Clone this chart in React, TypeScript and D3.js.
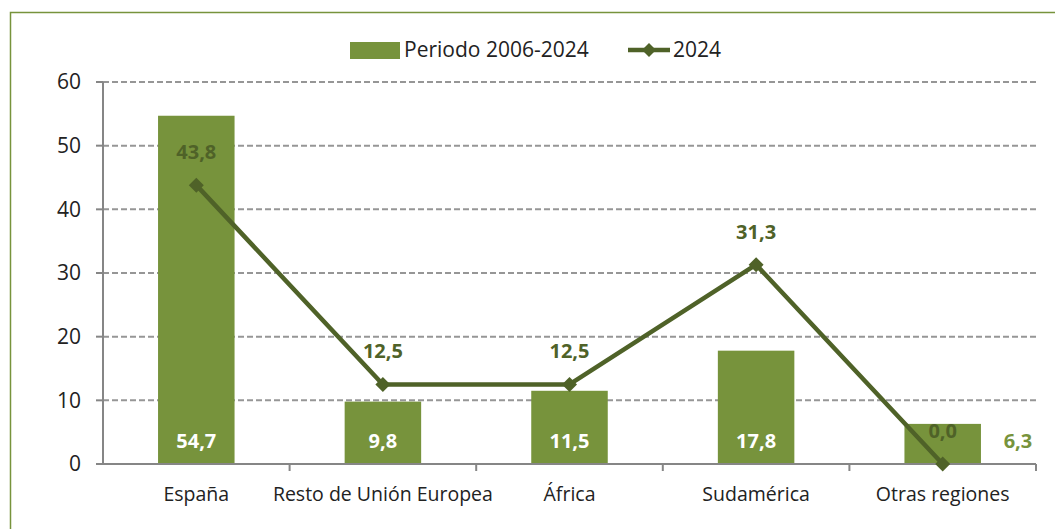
import React from 'react';
import * as d3 from 'd3';

const categories = ['España', 'Resto de Unión Europea', 'África', 'Sudamérica', 'Otras regiones'];
const periodValues = [54.7, 9.8, 11.5, 17.8, 6.3];
const year2024Values = [43.8, 12.5, 12.5, 31.3, 0.0];
const yTicks = [0, 10, 20, 30, 40, 50, 60];
const seriesNames = ['Periodo 2006-2024', '2024'];

const W = 1055;
const H = 529;
const FONT = '"Open Sans", Lato, sans-serif';
const BAR = '#77933c';
const LINE = '#4f6228';
const AXIS = '#868686';

const fmt = (v: number) => v.toFixed(1).replace('.', ',');

export default function App() {
  const x = d3.scaleBand<string>().domain(categories).range([103, 1036]).paddingInner(0.59).paddingOuter(0.295);
  const xc = d3.scalePoint<string>().domain(categories).range([103, 1036]).padding(0.5);
  const y = d3.scaleLinear().domain([0, 60]).range([464, 82]);
  const step = x.step();

  const line = d3.line<number>()
    .x((_, i) => xc(categories[i])!)
    .y(d => y(d));

  const diamond = (cx: number, cy: number, r: number) =>
    `M${cx},${cy - r}L${cx + r},${cy}L${cx},${cy + r}L${cx - r},${cy}Z`;

  return (
    <svg width={W} height={H} style={{ position: 'absolute', left: 0, top: 0, background: '#fff' }}>
      {/* frame */}
      <path d={`M10.5,${H}V12.5H${W}`} fill="none" stroke="#77933c" strokeWidth={1.5} />

      {/* gridlines */}
      {yTicks.filter(t => t > 0).map(t => (
        <line key={t} x1={103} x2={1036} y1={y(t)} y2={y(t)} stroke="#969696" strokeWidth={2} strokeDasharray="6,3" />
      ))}

      {/* bars */}
      {periodValues.map((v, i) => (
        <rect key={i} x={x(categories[i])!} y={y(v)} width={x.bandwidth()} height={y(0) - y(v)} fill={BAR} />
      ))}

      {/* axes */}
      <line x1={103} x2={103} y1={y(60)} y2={y(0)} stroke={AXIS} strokeWidth={2} />
      {yTicks.map(t => (
        <g key={t}>
          <line x1={96} x2={103} y1={y(t)} y2={y(t)} stroke={AXIS} strokeWidth={2} />
          <text x={81} y={y(t)} dy="0.35em" textAnchor="end" fontFamily={FONT} fontSize={21} fill="#222">{t}</text>
        </g>
      ))}
      <line x1={96} x2={1036} y1={y(0)} y2={y(0)} stroke={AXIS} strokeWidth={2} />
      {categories.map((c, i) => (
        <line key={c} x1={103 + step * (i + 1)} x2={103 + step * (i + 1)} y1={y(0)} y2={y(0) + 7} stroke={AXIS} strokeWidth={2} />
      ))}
      {categories.map(c => (
        <text key={c} x={xc(c)!} y={494} dy="0.35em" textAnchor="middle" fontFamily={FONT} fontSize={19.5} fill="#222">{c}</text>
      ))}

      {/* line series */}
      <path d={line(year2024Values)!} fill="none" stroke={LINE} strokeWidth={4.5} strokeLinejoin="round" />
      {year2024Values.map((v, i) => (
        <path key={i} d={diamond(xc(categories[i])!, y(v), 7.5)} fill={LINE} />
      ))}

      {/* bar labels */}
      {periodValues.map((v, i) => {
        const last = i === periodValues.length - 1;
        return (
          <text key={i}
            x={last ? x(categories[i])! + x.bandwidth() + 37 : xc(categories[i])!}
            y={441} dy="0.35em" textAnchor="middle" fontFamily={FONT} fontSize={20} fontWeight="bold"
            fill={last ? BAR : '#fff'}>{fmt(v)}</text>
        );
      })}

      {/* line labels */}
      {year2024Values.map((v, i) => (
        <text key={i} x={xc(categories[i])!} y={y(v) - 33} dy="0.35em" textAnchor="middle" fontFamily={FONT} fontSize={20} fontWeight="bold" fill={LINE}>{fmt(v)}</text>
      ))}

      {/* legend */}
      <rect x={350} y={42} width={50} height={17} fill={BAR} />
      <text x={404} y={50} dy="0.35em" fontFamily={FONT} fontSize={21} fill="#222">{seriesNames[0]}</text>
      <line x1={628} x2={670} y1={50} y2={50} stroke={LINE} strokeWidth={4.5} />
      <path d={diamond(649, 50, 7)} fill={LINE} />
      <text x={673} y={50} dy="0.35em" fontFamily={FONT} fontSize={21} fill="#222">{seriesNames[1]}</text>
    </svg>
  );
}
